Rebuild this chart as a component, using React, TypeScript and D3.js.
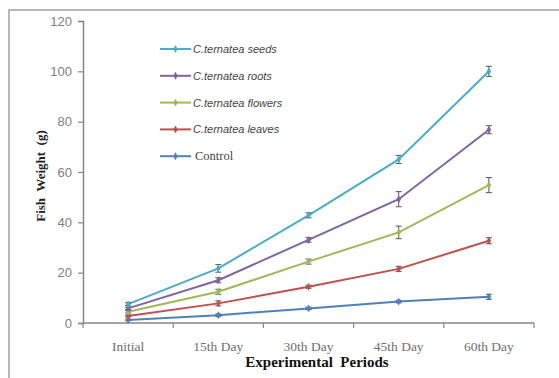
import React, { useRef, useEffect } from 'react';
import * as d3 from 'd3';

const periods = ['Initial', '15th Day', '30th Day', '45th Day', '60th Day'];
const yTicks = [0, 20, 40, 60, 80, 100, 120];

const seriesNames = ['C.ternatea seeds', 'C.ternatea roots', 'C.ternatea flowers', 'C.ternatea leaves', 'Control'];
const seriesColors = ['#4BACC6', '#8064A2', '#9BBB59', '#C0504D', '#4F81BD'];

const seeds = [7.5, 21.7, 42.8, 65, 100];
const roots = [5.8, 17, 33, 49.2, 76.8];
const flowers = [4.5, 12.4, 24.4, 36, 54.8];
const leaves = [2.8, 7.8, 14.4, 21.5, 32.7];
const control = [1.2, 3.1, 5.8, 8.5, 10.4];

const seedsErr = [0.6, 1.5, 1, 1.6, 2];
const rootsErr = [0.5, 1, 0.9, 3, 1.6];
const flowersErr = [0.5, 1, 1, 2.5, 3];
const leavesErr = [0.4, 1, 0.6, 1, 1.2];
const controlErr = [0.3, 0.5, 0.5, 0.5, 1];

const allValues = [seeds, roots, flowers, leaves, control];
const allErrors = [seedsErr, rootsErr, flowersErr, leavesErr, controlErr];

const App = () => {
    const svgRef = useRef(null);

    useEffect(() => {
        if (svgRef.current) drawChart(svgRef.current);
    }, []);

    return (
        <svg ref={svgRef} width={559} height={378}
            style={{ position: 'absolute', left: 0, top: 0, background: '#fff' }} />
    );

    function drawChart(node) {
        const svg = d3.select(node);
        svg.selectAll('*').remove();

        const left = 83, right = 534, top = 21, bottom = 323;

        const x = d3.scaleBand().domain(periods).range([left, right]);
        const y = d3.scaleLinear().domain([0, 120]).range([bottom, top]);
        const cx = d => x(d) + x.bandwidth() / 2;

        // outer frame (cropped on right/bottom)
        svg.append('rect')
            .attr('x', 9).attr('y', 10)
            .attr('width', 600).attr('height', 400)
            .style('fill', 'none')
            .style('stroke', '#a0a0a0')
            .style('stroke-width', 1.5);

        // y axis
        const yAxis = d3.axisLeft(y).tickValues(yTicks).tickSize(5).tickPadding(6);
        const gy = svg.append('g')
            .attr('transform', `translate(${left},0)`)
            .call(yAxis);
        gy.select('.domain').style('stroke', '#868686').style('stroke-width', 1.5);
        gy.selectAll('.tick line').style('stroke', '#868686').style('stroke-width', 1.2);
        gy.selectAll('.tick text')
            .style('font-family', 'Liberation Sans, Arial, sans-serif')
            .style('font-size', '13px')
            .style('fill', '#808080');

        // x axis with ticks at category boundaries
        const gx = svg.append('g').attr('transform', `translate(0,${bottom})`);
        gx.append('line')
            .attr('x1', left).attr('x2', right)
            .style('stroke', '#868686').style('stroke-width', 1.5);
        const bounds = periods.map(p => x(p)).concat([right]);
        gx.selectAll('.xtick').data(bounds).enter().append('line')
            .attr('class', 'xtick')
            .attr('x1', d => d).attr('x2', d => d)
            .attr('y1', 0).attr('y2', 5)
            .style('stroke', '#868686').style('stroke-width', 1.2);
        gx.selectAll('.xlabel').data(periods).enter().append('text')
            .attr('class', 'xlabel')
            .attr('x', d => cx(d))
            .attr('y', 28)
            .style('text-anchor', 'middle')
            .style('font-family', 'Liberation Serif, Times New Roman, serif')
            .style('font-size', '13.5px')
            .style('fill', '#6e6e6e')
            .text(d => d);

        // axis titles
        svg.append('text')
            .attr('x', 317).attr('y', 367)
            .style('text-anchor', 'middle')
            .style('font-family', 'Liberation Serif, Times New Roman, serif')
            .style('font-weight', 'bold')
            .style('font-size', '15px')
            .style('fill', '#111')
            .style('white-space', 'pre')
            .text('Experimental  Periods');

        svg.append('text')
            .attr('transform', 'translate(45,176) rotate(-90)')
            .style('text-anchor', 'middle')
            .style('font-family', 'Liberation Serif, Times New Roman, serif')
            .style('font-weight', 'bold')
            .style('font-size', '13px')
            .style('fill', '#222')
            .style('white-space', 'pre')
            .text('Fish  Weight  (g)');

        const line = d3.line()
            .x(d => cx(d.period))
            .y(d => y(d.value));

        // draw from bottom series up so top lines overlap
        for (let i = allValues.length - 1; i >= 0; i--) {
            const pts = periods.map((p, j) => ({ period: p, value: allValues[i][j], err: allErrors[i][j] }));
            const g = svg.append('g');

            g.append('path')
                .datum(pts)
                .attr('d', line)
                .style('fill', 'none')
                .style('stroke', seriesColors[i])
                .style('stroke-width', 2);

            const eb = g.selectAll('.err').data(pts).enter().append('g').attr('class', 'err');
            eb.append('line')
                .attr('x1', d => cx(d.period)).attr('x2', d => cx(d.period))
                .attr('y1', d => y(d.value - d.err)).attr('y2', d => y(d.value + d.err))
                .style('stroke', '#555').style('stroke-width', 1);
            eb.append('line')
                .attr('x1', d => cx(d.period) - 3).attr('x2', d => cx(d.period) + 3)
                .attr('y1', d => y(d.value + d.err)).attr('y2', d => y(d.value + d.err))
                .style('stroke', '#555').style('stroke-width', 1);
            eb.append('line')
                .attr('x1', d => cx(d.period) - 3).attr('x2', d => cx(d.period) + 3)
                .attr('y1', d => y(d.value - d.err)).attr('y2', d => y(d.value - d.err))
                .style('stroke', '#555').style('stroke-width', 1);

            g.selectAll('.dot').data(pts).enter().append('path')
                .attr('class', 'dot')
                .attr('transform', d => `translate(${cx(d.period)},${y(d.value)})`)
                .attr('d', d3.symbol().type(d3.symbolDiamond).size(18))
                .style('fill', seriesColors[i]);
        }

        // legend
        const legend = svg.selectAll('.legend').data(seriesNames).enter().append('g')
            .attr('class', 'legend')
            .attr('transform', (d, i) => `translate(160,${49 + i * 26.8})`);

        legend.append('line')
            .attr('x1', 0).attr('x2', 31)
            .style('stroke', (d, i) => seriesColors[i])
            .style('stroke-width', 2);
        legend.append('path')
            .attr('transform', 'translate(15.5,0)')
            .attr('d', d3.symbol().type(d3.symbolDiamond).size(18))
            .style('fill', (d, i) => seriesColors[i]);
        legend.append('text')
            .attr('x', (d, i) => i === 4 ? 35 : 33)
            .attr('y', 4)
            .style('font-family', (d, i) => i === 4 ? 'Liberation Serif, Times New Roman, serif' : 'Liberation Sans, Arial, sans-serif')
            .style('font-style', (d, i) => i === 4 ? 'normal' : 'italic')
            .style('font-size', (d, i) => i === 4 ? '12.5px' : '11px')
            .style('fill', '#444')
            .text(d => d);
    }
};

export default App;
